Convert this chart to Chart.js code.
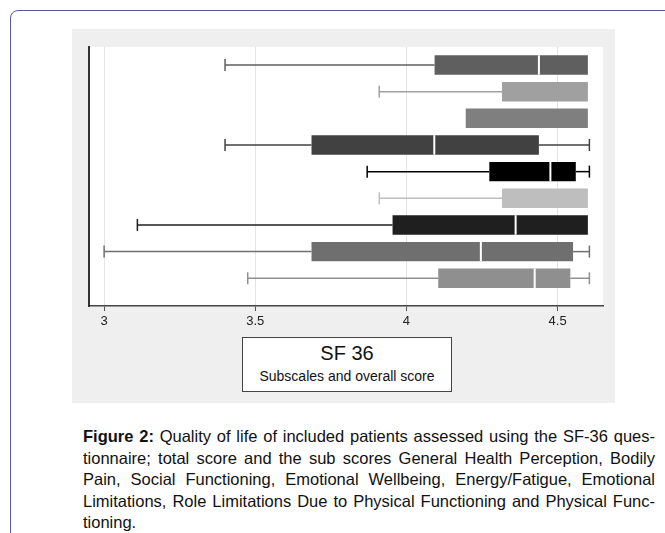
<!DOCTYPE html>
<html>
<head>
<meta charset="utf-8">
<script src="https://cdn.jsdelivr.net/npm/chart.js@4.4.0/dist/chart.umd.min.js"></script>
<style>
  html, body { margin: 0; padding: 0; background: #ffffff; width: 665px; height: 533px; overflow: hidden; font-family: "Liberation Sans", Arial, sans-serif; }
  #frame { position: absolute; left: 10px; top: 10px; width: 700px; height: 600px; border: 1.5px solid #5a56a0; border-radius: 8px; box-sizing: border-box; }
  #panel { position: absolute; left: 72px; top: 29px; width: 543px; height: 374px; background: #efefef; }
  #chart { position: absolute; left: 0; top: 0; }
  #legend { position: absolute; left: 242px; top: 337px; width: 210px; height: 55px; box-sizing: border-box; background: #fff; border: 1px solid #444; text-align: center; color: #111; }
  #legend .t1 { font-size: 20px; line-height: 22px; margin-top: 4px; }
  #legend .t2 { font-size: 14px; line-height: 16px; margin-top: 4px; }
  #caption { position: absolute; left: 83px; top: 426px; width: 572px; font-size: 16.5px; line-height: 21.5px; color: #111; }
  #caption .ln { display: block; white-space: nowrap; text-align: justify; text-align-last: justify; }
  #caption .ln.last { text-align-last: left; }
</style>
</head>
<body>
<div id="frame"></div>
<div id="panel"><canvas id="chart" width="543" height="374"></canvas></div>
<div id="legend"><div class="t1">SF 36</div><div class="t2">Subscales and overall score</div></div>
<div id="caption">
  <span class="ln"><b>Figure 2:</b> Quality of life of included patients assessed using the SF-36 ques-</span>
  <span class="ln">tionnaire; total score and the sub scores General Health Perception, Bodily</span>
  <span class="ln">Pain, Social Functioning, Emotional Wellbeing, Energy/Fatigue, Emotional</span>
  <span class="ln">Limitations, Role Limitations Due to Physical Functioning and Physical Func-</span>
  <span class="ln last">tioning.</span>
</div>
<script>
// ---- data ----
const categories = ["Total score", "General Health Perception", "Bodily Pain", "Social Functioning", "Emotional Wellbeing", "Energy/Fatigue", "Emotional Limitations", "Role Limitations Due to Physical Functioning", "Physical Functioning"];
const rowPositions = [1, 2, 3, 4, 5, 6, 7, 8, 9];
const mins    = [3.40, 3.91, 4.20, 3.40, 3.87, 3.91, 3.11, 3.00, 3.475];
const q1s     = [4.093, 4.316, 4.196, 3.686, 4.274, 4.316, 3.954, 3.686, 4.105];
const medians = [4.438, 4.60, 4.60, 4.092, 4.476, 4.60, 4.361, 4.246, 4.424];
const q3s     = [4.60, 4.60, 4.60, 4.438, 4.560, 4.60, 4.60, 4.551, 4.542];
const maxs    = [4.60, 4.60, 4.60, 4.605, 4.605, 4.60, 4.60, 4.605, 4.605];
const boxColors = ["#5f5f5f", "#a0a0a0", "#7f7f7f", "#414141", "#000000", "#bebebe", "#1f1f1f", "#6f6f6f", "#8f8f8f"];
const tickValues = [3, 3.5, 4, 4.5];
const tickLabels = ["3", "3.5", "4", "4.5"];

const plotBg = {
  id: 'plotBg',
  beforeDraw(chart) {
    const {ctx, chartArea: a} = chart;
    ctx.save();
    ctx.fillStyle = '#ffffff';
    ctx.fillRect(a.left, a.top, a.right - a.left, a.bottom - a.top);
    ctx.restore();
  }
};

const whiskers = {
  id: 'whiskers',
  beforeDatasetsDraw(chart) {
    const ctx = chart.ctx, xs = chart.scales.x, ys = chart.scales.y;
    ctx.save();
    ctx.lineWidth = 1.5;
    for (let i = 0; i < rowPositions.length; i++) {
      const y = ys.getPixelForValue(rowPositions[i]);
      ctx.strokeStyle = boxColors[i];
      const seg = (a, b, cap) => {
        const pa = xs.getPixelForValue(a), pb = xs.getPixelForValue(b), pc = xs.getPixelForValue(cap);
        ctx.beginPath(); ctx.moveTo(pa, y); ctx.lineTo(pb, y); ctx.stroke();
        ctx.beginPath(); ctx.moveTo(pc, y - 6); ctx.lineTo(pc, y + 6); ctx.stroke();
      };
      if (mins[i] < q1s[i]) seg(mins[i], q1s[i], mins[i]);
      if (maxs[i] > q3s[i]) seg(q3s[i], maxs[i], maxs[i]);
    }
    ctx.restore();
  },
  afterDatasetsDraw(chart) {
    const ctx = chart.ctx, xs = chart.scales.x, ys = chart.scales.y;
    const meta = chart.getDatasetMeta(0);
    ctx.save();
    ctx.strokeStyle = '#ffffff';
    ctx.lineWidth = 2;
    for (let i = 0; i < rowPositions.length; i++) {
      if (medians[i] <= q1s[i] || medians[i] >= q3s[i]) continue;
      const bar = meta.data[i];
      const h = bar.height;
      const y = ys.getPixelForValue(rowPositions[i]);
      const x = xs.getPixelForValue(medians[i]);
      ctx.beginPath(); ctx.moveTo(x, y - h / 2); ctx.lineTo(x, y + h / 2); ctx.stroke();
    }
    ctx.restore();
  }
};

new Chart(document.getElementById('chart'), {
  type: 'bar',
  data: {
    datasets: [{
      label: 'SF 36',
      data: rowPositions.map((p, i) => ({ y: p, x: [q1s[i], q3s[i]] })),
      backgroundColor: boxColors,
      borderColor: boxColors,
      borderWidth: 0,
      borderSkipped: false,
      barPercentage: 0.73,
      categoryPercentage: 1.0
    }]
  },
  options: {
    indexAxis: 'y',
    responsive: false,
    animation: false,
    devicePixelRatio: 1,
    layout: { padding: { left: 17, right: 12, top: 18, bottom: 0 } },
    plugins: { legend: { display: false }, tooltip: { enabled: false } },
    scales: {
      x: {
        type: 'linear',
        position: 'bottom',
        min: 2.95,
        max: 4.65,
        afterBuildTicks(scale) { scale.ticks = tickValues.map(v => ({ value: v })); },
        afterFit(scale) { scale.height = 97; },
        ticks: {
          callback: (v) => tickLabels[tickValues.indexOf(v)],
          font: { family: 'Liberation Sans, Arial, sans-serif', size: 13 },
          color: '#222',
          padding: 3,
          maxRotation: 0
        },
        grid: { color: '#e4e4e4', lineWidth: 1, tickLength: 5, tickColor: '#555', drawOnChartArea: true },
        border: { display: true, color: '#444', width: 1.5 }
      },
      y: {
        type: 'linear',
        reverse: true,
        offset: false,
        min: 0.325,
        max: 10.04,
        afterBuildTicks(scale) { scale.ticks = rowPositions.map(v => ({ value: v })); },
        afterFit(scale) { scale.width = 0; },
        ticks: { display: false },
        grid: { display: false },
        border: { display: true, color: '#333', width: 2 }
      }
    }
  },
  plugins: [plotBg, whiskers]
});
</script>
</body>
</html>
